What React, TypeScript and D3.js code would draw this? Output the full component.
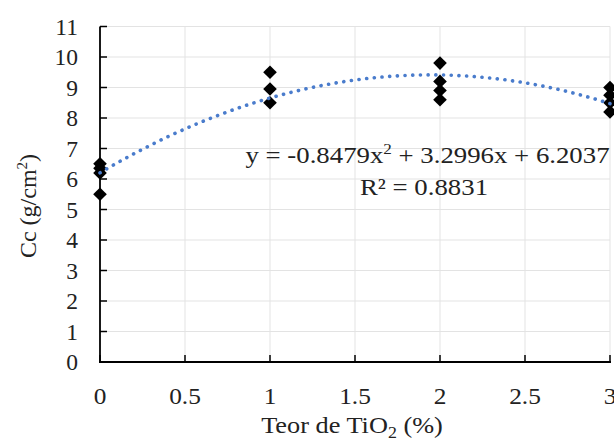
import React from "react";
import * as d3 from "d3";

const pointX = [0, 0, 0, 0, 1, 1, 1, 2, 2, 2, 2, 3, 3, 3, 3];
const pointY = [6.5, 6.35, 6.2, 5.5, 9.5, 8.95, 8.5, 9.8, 9.2, 8.9, 8.6, 9.0, 8.75, 8.5, 8.2];
const trendCoef = [-0.8479, 3.2996, 6.2037];
const xTicks = [0, 0.5, 1, 1.5, 2, 2.5, 3];
const xTickLabels = ["0", "0.5", "1", "1.5", "2", "2.5", "3"];
const yTicks = [0, 1, 2, 3, 4, 5, 6, 7, 8, 9, 10, 11];
const r2Text = "0.8831";

const W = 614;
const H = 445;
const FONT = "'Liberation Serif', 'Times New Roman', serif";
const FS = 23.5;

export default function App() {
  const x = d3.scaleLinear().domain([0, 3]).range([100, 610]);
  const y = d3.scaleLinear().domain([0, 11]).range([362, 26.5]);

  const f = (v: number) => trendCoef[0] * v * v + trendCoef[1] * v + trendCoef[2];
  const curveXs = d3.range(0, 3.0001, 0.02);
  const line = d3
    .line<number>()
    .x((d) => x(d))
    .y((d) => y(f(d)));

  const diamond = d3.symbol().type(d3.symbolDiamond2).size(118)();

  return (
    <svg
      width={W}
      height={H}
      style={{ position: "absolute", left: 0, top: 0, background: "#fff" }}
      fontFamily={FONT}
    >
      <rect x={0} y={0} width={W} height={H} fill="#fff" />
      {/* gridlines */}
      {yTicks.slice(1).map((t) => (
        <line key={"gy" + t} x1={x(0)} x2={x(3)} y1={y(t)} y2={y(t)} stroke="#e3e3e3" strokeWidth={1} />
      ))}
      {xTicks.slice(1).map((t) => (
        <line key={"gx" + t} x1={x(t)} x2={x(t)} y1={y(0)} y2={y(11)} stroke="#e3e3e3" strokeWidth={1} />
      ))}
      {/* axes */}
      <line x1={x(0)} x2={x(0)} y1={y(0)} y2={y(11)} stroke="#000" strokeWidth={1.8} />
      <line x1={x(0) - 1} x2={x(3) + 1} y1={y(0)} y2={y(0)} stroke="#000" strokeWidth={1.8} />
      {yTicks.map((t) => (
        <line key={"ty" + t} x1={x(0)} x2={x(0) + 7} y1={y(t)} y2={y(t)} stroke="#000" strokeWidth={1.5} />
      ))}
      {xTicks.map((t) => (
        <line key={"tx" + t} x1={x(t)} x2={x(t)} y1={y(0)} y2={y(0) - 7} stroke="#000" strokeWidth={1.5} />
      ))}
      {/* tick labels */}
      {yTicks.map((t) => (
        <text key={"ly" + t} x={78} y={y(t) + 8} textAnchor="end" fontSize={FS} fill="#222">
          {t}
        </text>
      ))}
      {xTicks.map((t, i) => (
        <text
          key={"lx" + t}
          transform={`translate(${x(t)},403.5) scale(1.08,1)`}
          textAnchor="middle"
          fontSize={FS}
          fill="#222"
        >
          {xTickLabels[i]}
        </text>
      ))}
      {/* axis titles */}
      <text transform="translate(352,433) scale(1.12,1)" textAnchor="middle" fontSize={FS} fill="#222">
        Teor de TiO
        <tspan fontSize={16} dy={5}>2</tspan>
        <tspan dy={-5}> (%)</tspan>
      </text>
      <text
        transform={`translate(36, 206) rotate(-90)`}
        textAnchor="middle"
        fontSize={24}
        fill="#222"
      >
        Cc (g/cm
        <tspan fontSize={15} dy={-9}>2</tspan>
        <tspan dy={9}>)</tspan>
      </text>
      {/* data points */}
      {pointX.map((px, i) => (
        <path key={"p" + i} d={diamond!} transform={`translate(${x(px)},${y(pointY[i])})`} fill="#000" />
      ))}
      {/* trendline */}
      <path
        d={line(curveXs)!}
        fill="none"
        stroke="#4a7ccc"
        strokeWidth={3.6}
        strokeLinecap="round"
        strokeDasharray="0.1 7.6"
      />
      {/* equation */}
      <text transform="translate(427.5,163) scale(1.14,1)" textAnchor="middle" fontSize={FS} fill="#222">
        {`y = ${trendCoef[0]}x`}
        <tspan fontSize={15} dy={-9}>2</tspan>
        <tspan dy={9}>{` + ${trendCoef[1]}x + ${trendCoef[2]}`}</tspan>
      </text>
      <text transform="translate(424,195) scale(1.14,1)" textAnchor="middle" fontSize={FS} fill="#222">
        {`R² = ${r2Text}`}
      </text>
    </svg>
  );
}
